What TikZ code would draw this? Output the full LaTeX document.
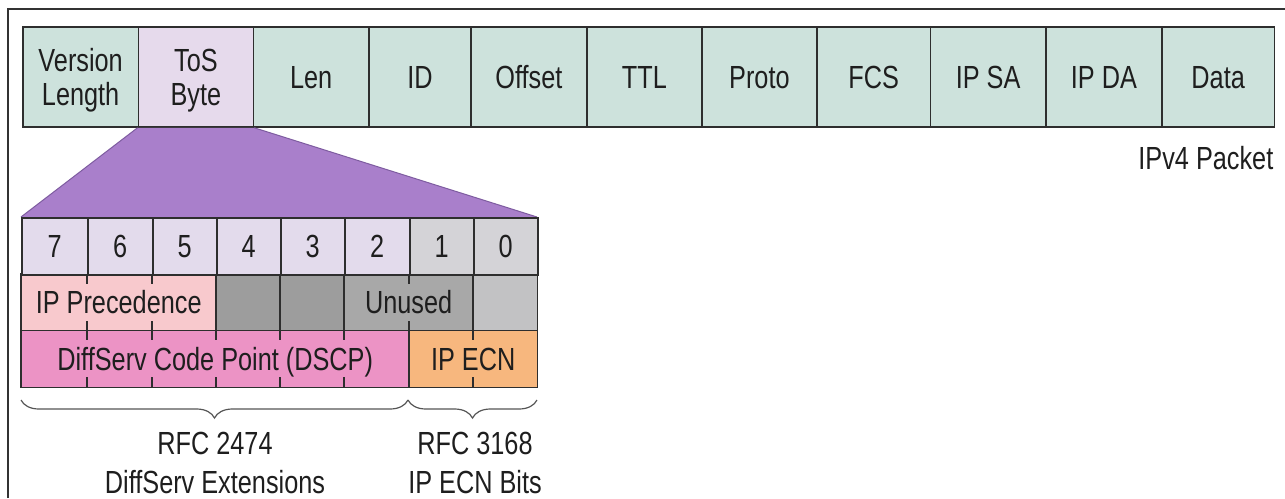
\documentclass[tikz,border=0pt]{standalone}
\usepackage{fontspec}
\setmainfont{Liberation Sans}
\newfontfamily\condfont[FakeStretch=0.79]{Liberation Sans}
\usetikzlibrary{decorations.pathreplacing}
\definecolor{pktc}{HTML}{CDE2DC}
\definecolor{tosc}{HTML}{E6DAEC}
\definecolor{purp}{HTML}{A97FCB}
\definecolor{purpedge}{HTML}{7E5CA0}
\definecolor{lavc}{HTML}{E3DBEC}
\definecolor{lgrayc}{HTML}{D4D3D7}
\definecolor{pinkA}{HTML}{F8C9CD}
\definecolor{dgrayc}{HTML}{9D9D9D}
\definecolor{mgrayc}{HTML}{A8A8A8}
\definecolor{lgrayB}{HTML}{C2C2C4}
\definecolor{pinkB}{HTML}{EC93C5}
\definecolor{orangec}{HTML}{F7B77E}
\definecolor{linec}{HTML}{2E2E2E}
\definecolor{framec}{HTML}{333333}
\definecolor{bracec}{HTML}{555555}
\definecolor{textc}{HTML}{1E1E1E}
\begin{document}
\begin{tikzpicture}[x=1pt,y=-1pt,
  every node/.style={font=\condfont\fontsize{32}{34}\selectfont, text=textc},
  pkt/.style={draw=linec, line width=1.8pt, fill=pktc, anchor=north west,
    minimum height=100pt, inner sep=0pt, align=center, text height=23pt, text depth=0pt},
  twoline/.style={text height=57pt},
  bitbox/.style={draw=linec, line width=1.5pt, anchor=north west,
    minimum height=57pt, inner sep=0pt, text height=23pt, text depth=0pt},
  cellbox/.style={anchor=north west, inner sep=0pt, minimum height=56pt},
  lbl/.style={inner xsep=1.5pt, inner ysep=7pt, text height=23pt, text depth=0pt},
  txt/.style={inner sep=0pt, text height=23pt, text depth=0pt},
  gridline/.style={draw=linec, line width=1.5pt},
  brc/.style={decorate, decoration={brace, mirror, amplitude=18pt}, draw=bracec, line width=1.2pt}
]
\useasboundingbox (0,0) rectangle (1285,498);
\fill[white] (0,0) rectangle (1285,498);

% outer frame
\draw[framec, line width=2pt] (8,498) -- (8,9) -- (1285,9);

% packet row
\node[pkt, twoline, minimum width=115.5pt] (ver) at (22,26) {Version\\Length};
\node[pkt, twoline, fill=tosc, minimum width=115pt] (tos) at (137.5,26) {ToS\\Byte};
\node[pkt, minimum width=115.5pt] (len) at (252.5,26) {Len};
\node[pkt, minimum width=102pt] (id) at (368,26) {ID};
\node[pkt, minimum width=116pt] (off) at (470,26) {Offset};
\node[pkt, minimum width=115pt] (ttl) at (586,26) {TTL};
\node[pkt, minimum width=115pt] (proto) at (701,26) {Proto};
\node[pkt, minimum width=113.5pt] (fcs) at (816,26) {FCS};
\node[pkt, minimum width=115.5pt] (sa) at (929.5,26) {IP SA};
\node[pkt, minimum width=116pt] (da) at (1045,26) {IP DA};
\node[pkt, minimum width=112.5pt] (data) at (1161,26) {Data};
\node[txt, anchor=east] (ipv4) at (1273.5,158) {IPv4 Packet};

% trapezoid
\coordinate (tl) at (21,217);
\coordinate (tr) at (537,217);
\fill[purp] (tos.south west) -- (tos.south east) -- (tr) -- (tl) -- cycle;
\draw[purpedge, line width=1pt] (tl) -- (tos.south west);
\draw[purpedge, line width=1pt] (tr) -- (tos.south east);

% row 2 and 3 cell fills
\node[cellbox, fill=pinkA, minimum width=195pt] (prec) at (21,274) {};
\node[cellbox, fill=dgrayc, minimum width=64pt] (u4) at (216,274) {};
\node[cellbox, fill=dgrayc, minimum width=64pt] (u3) at (280,274) {};
\node[cellbox, fill=mgrayc, minimum width=129pt] (unu) at (344,274) {};
\node[cellbox, fill=lgrayB, minimum width=64pt] (u0) at (473,274) {};
\node[cellbox, fill=pinkB, minimum width=388pt, minimum height=57pt] (dscp) at (21,330) {};
\node[cellbox, fill=orangec, minimum width=128pt, minimum height=57pt] (ecn) at (409,330) {};

% vertical grid lines through rows 2-3
\foreach \x in {87,152,216,280,344,409,473}
  \draw[gridline] (\x,274) -- (\x,387);

% labels with backgrounds covering the grid lines
\node[lbl, fill=pinkA] (tprec) at (prec) {IP Precedence};
\node[lbl, fill=mgrayc] (tunu) at (unu) {Unused};
\node[lbl, fill=pinkB] (tdscp) at (dscp) {DiffServ Code Point (DSCP)};
\node[lbl, fill=orangec] (tecn) at (ecn) {IP ECN};

% outlines rows 2-3
\draw[gridline] (prec.north west) rectangle (ecn.south east);
\draw[gridline] (prec.south west) -- (u0.south east);

% bit number row
\node[bitbox, fill=lavc, minimum width=66pt] (d7) at (21,217) {7};
\node[bitbox, fill=lavc, minimum width=65pt] (d6) at (87,217) {6};
\node[bitbox, fill=lavc, minimum width=64pt] (d5) at (152,217) {5};
\node[bitbox, fill=lavc, minimum width=64pt] (d4) at (216,217) {4};
\node[bitbox, fill=lavc, minimum width=64pt] (d3) at (280,217) {3};
\node[bitbox, fill=lavc, minimum width=65pt] (d2) at (344,217) {2};
\node[bitbox, fill=lgrayc, minimum width=64pt] (d1) at (409,217) {1};
\node[bitbox, fill=lgrayc, minimum width=64pt] (d0) at (473,217) {0};

% braces
\coordinate (b1) at (21,400);
\coordinate (b2) at (408,400);
\coordinate (b3) at (537,400);
\draw[brc] (b1) -- (b2);
\draw[brc] (b2) -- (b3);

\node[txt] (rfcA) at (215,443) {RFC 2474};
\node[txt] (extA) at (215,482) {DiffServ Extensions};
\node[txt] (rfcB) at (475,443) {RFC 3168};
\node[txt] (extB) at (475,482) {IP ECN Bits};
\end{tikzpicture}
\end{document}
